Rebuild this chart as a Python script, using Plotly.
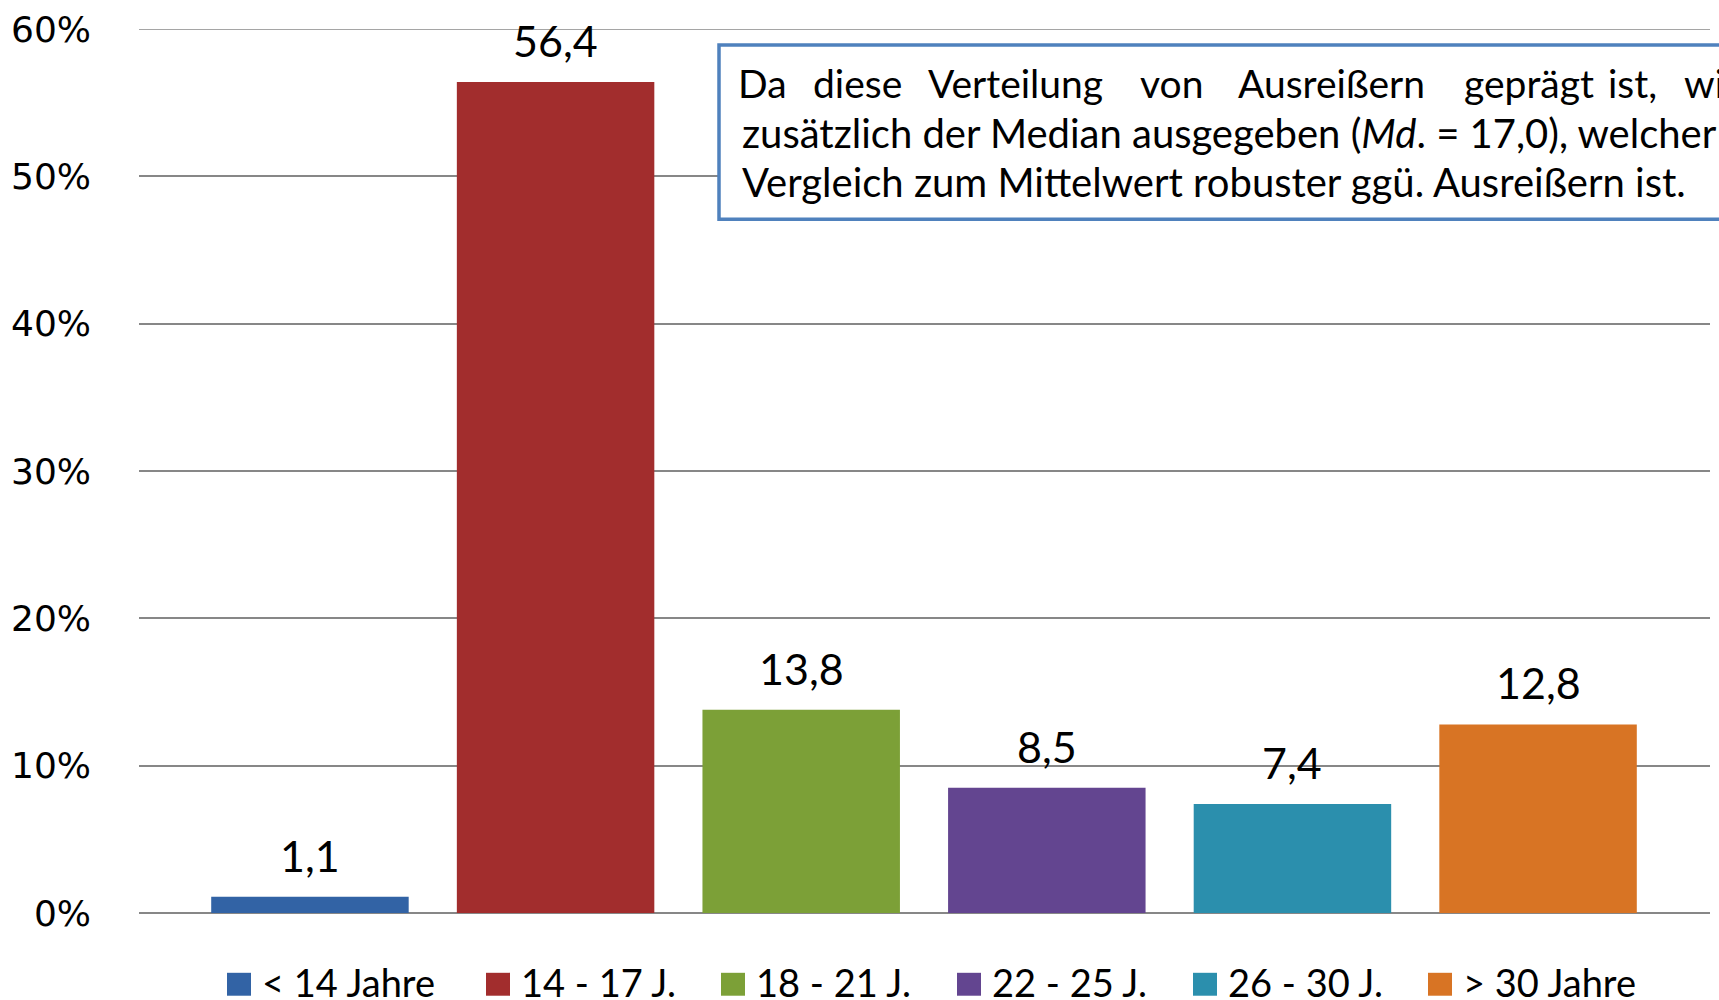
import plotly.graph_objects as go

categories = ["< 14 Jahre", "14 - 17 J.", "18 - 21 J.", "22 - 25 J.", "26 - 30 J.", "> 30 Jahre"]
values = [1.1, 56.4, 13.8, 8.5, 7.4, 12.8]
colors = ["#3263A5", "#A22D2D", "#7CA037", "#634590", "#2B8FAD", "#D87424"]
y_ticks = [0, 10, 20, 30, 40, 50, 60]
y_tick_labels = ["0%", "10%", "20%", "30%", "40%", "50%", "60%"]
box_line1 = ["Da", "diese", "Verteilung", "von", "Ausreißern", "geprägt", "ist,", "wird"]
box_line2 = "zusätzlich der Median ausgegeben (<i>Md</i>. = 17,0), welcher im"
box_line3 = "Vergleich zum Mittelwert robuster ggü. Ausreißern ist."

W, H = 1719, 1000
L, R, T, B = 139, 9, 26, 87
PW, PH = W - L - R, H - T - B

def px(x):
    return (x - L) / PW

def py(y):
    return (H - B - y) / PH

TXT = "Lato"
GRID = "#878787"

fig = go.Figure()
for i, (c, v, col) in enumerate(zip(categories, values, colors)):
    fig.add_trace(go.Bar(x=[i], y=[v], marker=dict(color=col, line=dict(width=0)),
                         width=0.804, name=c, showlegend=False, hoverinfo="skip"))

annotations = []
for i, v in enumerate(values):
    annotations.append(dict(x=i, y=v, xref="x", yref="y", text=f"{v:.1f}".replace(".", ","),
                            showarrow=False, yanchor="bottom", yshift=14,
                            font=dict(family=TXT, size=43, color="#000000")))

shapes = [dict(type="line", xref="paper", yref="y", x0=0, x1=1, y0=60, y1=60,
               line=dict(color=GRID, width=1.5), layer="below")]
# text box
shapes.append(dict(type="rect", xref="paper", yref="paper", x0=px(719), x1=1.05, y0=py(217), y1=py(42),
                   line=dict(color="#4F81BD", width=3.5), fillcolor="#FFFFFF", layer="above"))
line1_x = [762, 857, 1015, 1171, 1331, 1529, 1632, 1682]
for k, (w, xx) in enumerate(zip(box_line1, line1_x)):
    last = k == len(box_line1) - 1
    annotations.append(dict(x=px(xx), y=py(80), xref="paper", yref="paper", text=w, showarrow=False,
                            xanchor="left" if last else "center", yanchor="middle",
                            font=dict(family=TXT, size=39, color="#000000")))
annotations.append(dict(x=px(740), y=py(130), xref="paper", yref="paper", text=box_line2, showarrow=False,
                        xanchor="left", yanchor="middle", font=dict(family=TXT, size=40, color="#000000")))
annotations.append(dict(x=px(740), y=py(180), xref="paper", yref="paper", text=box_line3, showarrow=False,
                        xanchor="left", yanchor="middle", font=dict(family=TXT, size=40, color="#000000")))

# manual legend
sq_left = [227, 486, 721, 957, 1193, 1428]
for c, col, xl in zip(categories, colors, sq_left):
    shapes.append(dict(type="rect", xref="paper", yref="paper", x0=px(xl), x1=px(xl + 24),
                       y0=py(996), y1=py(973), line=dict(width=0), fillcolor=col))
    annotations.append(dict(x=px(xl + 33), y=py(982), xref="paper", yref="paper", text=c, showarrow=False,
                            xanchor="left", yanchor="middle", font=dict(family=TXT, size=38, color="#000000")))

fig.update_layout(
    width=W, height=H,
    margin=dict(l=L, r=R, t=T, b=B, pad=0),
    paper_bgcolor="#FFFFFF", plot_bgcolor="#FFFFFF",
    barmode="overlay",
    showlegend=False,
    shapes=shapes,
    annotations=annotations,
    xaxis=dict(range=[-0.696, 5.7], showgrid=False, showticklabels=False, zeroline=False,
               showline=False, ticks=""),
    yaxis=dict(range=[0, 60], tickvals=y_ticks, ticktext=y_tick_labels, showgrid=True,
               gridcolor=GRID, gridwidth=1.5, zeroline=True, zerolinecolor=GRID, zerolinewidth=1.5,
               showline=False, ticks="", ticklabelstandoff=47,
               tickfont=dict(family="DejaVu Sans", size=36, color="#000000")),
)

fig.write_html("out.html", config={"displayModeBar": False},
               post_script="document.body.style.margin='0px';document.body.style.overflow='hidden';")
